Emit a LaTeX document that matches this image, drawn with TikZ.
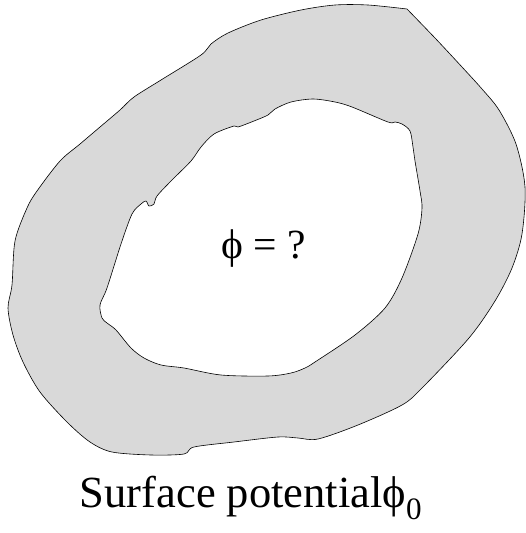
\documentclass[tikz,border=0pt]{standalone}
\usepackage{fontspec}
\setmainfont{Liberation Serif}
\usetikzlibrary{positioning}

\begin{document}
\begin{tikzpicture}[
    x=1pt, y=-1pt,
    shell/.style={draw, line width=0.6pt, fill=gray!30, even odd rule},
    label/.style={inner sep=0pt, anchor=base}
]

\useasboundingbox (0,0) rectangle (525,533);

% --- Conductor shell with cavity ---
\path[shell]
    plot[smooth, tension=0.5] coordinates {
        (407,9) (435,38) (462,67) (482,89) (499,110) (516,144) (525,187)
        (522,234) (512,268) (495,301) (469,338) (422,388) (402,405) (358,425)
        (318,439) (298,438) (278,437) (234,442) (194,447) (184,454) (151,455)
        (112,452) (90,442) (67,422) (40,392) (23,362) (13,335) (8,308)
        (12,285) (15,241) (27,208) (37,191) (60,161) (80,144) (100,127)
        (120,110) (134,97) (161,80) (201,55) (211,44) (228,33) (261,20)
        (301,10) (335,5) (368,5) (407,9)
    } -- cycle
    plot[smooth cycle, tension=0.5] coordinates {
        (313,99) (291,102) (275,109) (268,115) (254,121) (238,127) (234,126)
        (214,134) (201,147) (191,161) (171,181) (157,196) (154,204) (149,206)
        (146,201) (141,204) (132,214) (121,244) (107,288) (100,305) (102,318)
        (107,323) (116,330) (131,348) (144,358) (161,365) (184,368) (221,375)
        (268,376) (291,373) (305,368) (315,362) (355,335) (385,308) (402,278)
        (418,234) (422,208) (420,191) (415,161) (413,147) (410,131) (402,124)
        (395,122) (388,122) (352,107) (335,102)
    };

% --- Labels ---
\node[label, font=\fontsize{41.5}{44}\selectfont] (inside) at (264,258) {ϕ = ?};
\node[label, font=\fontsize{44.5}{48}\selectfont] (surface) at (251,507) {Surface potentialϕ\textsubscript{0}};

\end{tikzpicture}
\end{document}
